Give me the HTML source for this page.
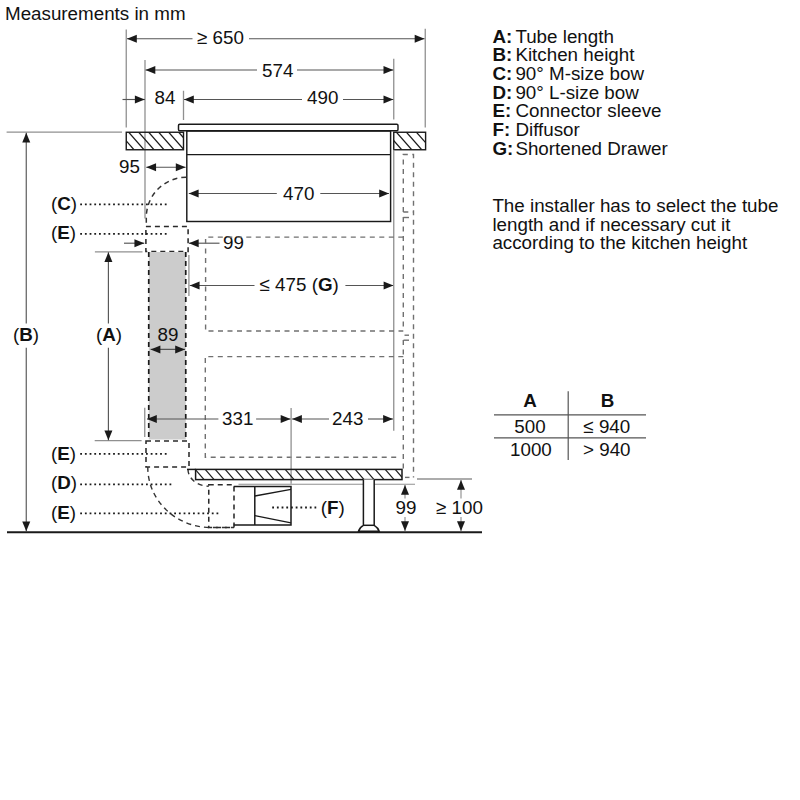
<!DOCTYPE html>
<html><head><meta charset="utf-8"><style>
html,body{margin:0;padding:0;background:#fff;width:800px;height:800px;overflow:hidden}
svg{display:block}
text{font-family:"Liberation Sans",sans-serif}
</style></head><body>
<svg width="800" height="800" viewBox="0 0 800 800">
<rect width="800" height="800" fill="#fff"/>
<text transform="translate(5,19.6) scale(1,1.02)" font-size="18.8" fill="#111">Measurements in mm</text>
<line x1="126.25" y1="29.50" x2="126.25" y2="127.50" stroke="#909090" stroke-width="1.3" stroke-linecap="butt"/>
<line x1="425.25" y1="28.75" x2="425.25" y2="127.50" stroke="#909090" stroke-width="1.3" stroke-linecap="butt"/>
<line x1="127.00" y1="38.75" x2="192.50" y2="38.75" stroke="#555" stroke-width="1.15" stroke-linecap="butt"/>
<line x1="249.00" y1="38.75" x2="424.50" y2="38.75" stroke="#555" stroke-width="1.15" stroke-linecap="butt"/>
<polygon points="127.00,38.75 136.80,34.75 136.80,42.75" fill="#1a1a1a"/>
<polygon points="424.50,38.75 414.70,42.75 414.70,34.75" fill="#1a1a1a"/>
<text transform="translate(197.00,44.25) scale(1,1.02)" font-size="18.8" text-anchor="start" font-weight="normal" fill="#111">≥ 650</text>
<line x1="145.00" y1="60.00" x2="145.00" y2="218.50" stroke="#909090" stroke-width="1.3" stroke-linecap="butt"/>
<line x1="393.75" y1="58.75" x2="393.75" y2="119.40" stroke="#909090" stroke-width="1.3" stroke-linecap="butt"/>
<line x1="145.50" y1="70.00" x2="257.00" y2="70.00" stroke="#555" stroke-width="1.15" stroke-linecap="butt"/>
<line x1="297.00" y1="70.00" x2="393.30" y2="70.00" stroke="#555" stroke-width="1.15" stroke-linecap="butt"/>
<polygon points="145.50,70.00 155.30,66.00 155.30,74.00" fill="#1a1a1a"/>
<polygon points="393.30,70.00 383.50,74.00 383.50,66.00" fill="#1a1a1a"/>
<text transform="translate(262.00,76.75) scale(1,1.02)" font-size="18.8" text-anchor="start" font-weight="normal" fill="#111">574</text>
<line x1="183.50" y1="90.75" x2="183.50" y2="120.00" stroke="#909090" stroke-width="1.3" stroke-linecap="butt"/>
<line x1="184.00" y1="99.50" x2="302.00" y2="99.50" stroke="#555" stroke-width="1.15" stroke-linecap="butt"/>
<line x1="343.00" y1="99.50" x2="393.30" y2="99.50" stroke="#555" stroke-width="1.15" stroke-linecap="butt"/>
<polygon points="184.00,99.50 193.80,95.50 193.80,103.50" fill="#1a1a1a"/>
<polygon points="393.30,99.50 383.50,103.50 383.50,95.50" fill="#1a1a1a"/>
<text transform="translate(307.00,104.25) scale(1,1.02)" font-size="18.8" text-anchor="start" font-weight="normal" fill="#111">490</text>
<line x1="122.50" y1="99.50" x2="145.00" y2="99.50" stroke="#555" stroke-width="1.15" stroke-linecap="butt"/>
<polygon points="144.70,99.50 134.90,103.50 134.90,95.50" fill="#1a1a1a"/>
<text transform="translate(154.50,104.25) scale(1,1.02)" font-size="18.8" text-anchor="start" font-weight="normal" fill="#111">84</text>
<line x1="6.60" y1="132.20" x2="122.00" y2="132.20" stroke="#909090" stroke-width="1.3" stroke-linecap="butt"/>
<line x1="26.25" y1="132.75" x2="26.25" y2="323.40" stroke="#555" stroke-width="1.15" stroke-linecap="butt"/>
<line x1="26.25" y1="347.80" x2="26.25" y2="531.25" stroke="#555" stroke-width="1.15" stroke-linecap="butt"/>
<polygon points="26.25,132.75 30.25,142.55 22.25,142.55" fill="#1a1a1a"/>
<polygon points="26.25,531.25 22.25,521.45 30.25,521.45" fill="#1a1a1a"/>
<text transform="translate(13.00,341.00) scale(1,1.02)" font-size="18.8" text-anchor="start" font-weight="normal" fill="#111">(<tspan font-weight='bold'>B</tspan>)</text>
<rect x="126.25" y="132.25" width="57.25" height="17.5" fill="none" stroke="#1a1a1a" stroke-width="1.4"/>
<clipPath id="c30"><rect x="126.25" y="132.25" width="57.25" height="17.5"/></clipPath><g clip-path="url(#c30)">
<line x1="108.75" y1="132.25" x2="123.97" y2="149.75" stroke="#1a1a1a" stroke-width="1.2" stroke-linecap="butt"/>
<line x1="118.75" y1="132.25" x2="133.97" y2="149.75" stroke="#1a1a1a" stroke-width="1.2" stroke-linecap="butt"/>
<line x1="128.75" y1="132.25" x2="143.97" y2="149.75" stroke="#1a1a1a" stroke-width="1.2" stroke-linecap="butt"/>
<line x1="138.75" y1="132.25" x2="153.97" y2="149.75" stroke="#1a1a1a" stroke-width="1.2" stroke-linecap="butt"/>
<line x1="148.75" y1="132.25" x2="163.97" y2="149.75" stroke="#1a1a1a" stroke-width="1.2" stroke-linecap="butt"/>
<line x1="158.75" y1="132.25" x2="173.97" y2="149.75" stroke="#1a1a1a" stroke-width="1.2" stroke-linecap="butt"/>
<line x1="168.75" y1="132.25" x2="183.97" y2="149.75" stroke="#1a1a1a" stroke-width="1.2" stroke-linecap="butt"/>
<line x1="178.75" y1="132.25" x2="193.97" y2="149.75" stroke="#1a1a1a" stroke-width="1.2" stroke-linecap="butt"/>
</g>
<rect x="393.75" y="132.25" width="31.85" height="17.5" fill="none" stroke="#1a1a1a" stroke-width="1.4"/>
<clipPath id="c41"><rect x="393.75" y="132.25" width="31.850000000000023" height="17.5"/></clipPath><g clip-path="url(#c41)">
<line x1="376.50" y1="132.25" x2="391.73" y2="149.75" stroke="#1a1a1a" stroke-width="1.2" stroke-linecap="butt"/>
<line x1="386.50" y1="132.25" x2="401.73" y2="149.75" stroke="#1a1a1a" stroke-width="1.2" stroke-linecap="butt"/>
<line x1="396.50" y1="132.25" x2="411.73" y2="149.75" stroke="#1a1a1a" stroke-width="1.2" stroke-linecap="butt"/>
<line x1="406.50" y1="132.25" x2="421.73" y2="149.75" stroke="#1a1a1a" stroke-width="1.2" stroke-linecap="butt"/>
<line x1="416.50" y1="132.25" x2="431.73" y2="149.75" stroke="#1a1a1a" stroke-width="1.2" stroke-linecap="butt"/>
<line x1="426.50" y1="132.25" x2="441.73" y2="149.75" stroke="#1a1a1a" stroke-width="1.2" stroke-linecap="butt"/>
</g>
<rect x="178.5" y="124.2" width="219.5" height="6.6" rx="1.2" fill="#fff" stroke="#1a1a1a" stroke-width="1.45"/>
<rect x="186.8" y="131" width="203.8" height="90.5" fill="none" stroke="#1a1a1a" stroke-width="1.45"/>
<line x1="186.80" y1="154.60" x2="390.60" y2="154.60" stroke="#1a1a1a" stroke-width="1.45" stroke-linecap="butt"/>
<line x1="146.25" y1="167.25" x2="185.60" y2="167.25" stroke="#555" stroke-width="1.15" stroke-linecap="butt"/>
<polygon points="146.25,167.25 156.05,163.25 156.05,171.25" fill="#1a1a1a"/>
<polygon points="185.60,167.25 175.80,171.25 175.80,163.25" fill="#1a1a1a"/>
<text transform="translate(119.00,173.40) scale(1,1.02)" font-size="18.8" text-anchor="start" font-weight="normal" fill="#111">95</text>
<line x1="188.80" y1="193.50" x2="276.80" y2="193.50" stroke="#555" stroke-width="1.15" stroke-linecap="butt"/>
<line x1="320.30" y1="193.50" x2="389.00" y2="193.50" stroke="#555" stroke-width="1.15" stroke-linecap="butt"/>
<polygon points="188.80,193.50 198.60,189.50 198.60,197.50" fill="#1a1a1a"/>
<polygon points="389.00,193.50 379.20,197.50 379.20,189.50" fill="#1a1a1a"/>
<text transform="translate(283.00,199.50) scale(1,1.02)" font-size="18.8" text-anchor="start" font-weight="normal" fill="#111">470</text>
<path d="M186.2,177.3 A40,40 0 0 0 146.3,217.3 L146.3,226.5" fill="none" stroke="#333" stroke-width="1.5" stroke-dasharray="5,4"/>
<line x1="80.20" y1="204.40" x2="166.90" y2="204.40" stroke="#1a1a1a" stroke-width="1.8" stroke-dasharray="1.8,2.9" stroke-linecap="butt"/>
<text transform="translate(51.00,209.50) scale(1,1.02)" font-size="18.8" text-anchor="start" font-weight="normal" fill="#111">(<tspan font-weight='bold'>C</tspan>)</text>
<rect x="145.9" y="226.5" width="42.2" height="25" fill="none" stroke="#2a2a2a" stroke-width="1.55" stroke-dasharray="5,4"/>
<line x1="80.20" y1="233.80" x2="166.90" y2="233.80" stroke="#1a1a1a" stroke-width="1.8" stroke-dasharray="1.8,2.9" stroke-linecap="butt"/>
<text transform="translate(51.00,239.20) scale(1,1.02)" font-size="18.8" text-anchor="start" font-weight="normal" fill="#111">(<tspan font-weight='bold'>E</tspan>)</text>
<line x1="124.00" y1="243.20" x2="144.25" y2="243.20" stroke="#555" stroke-width="1.15" stroke-linecap="butt"/>
<polygon points="144.25,243.20 134.45,247.20 134.45,239.20" fill="#1a1a1a"/>
<line x1="188.90" y1="243.20" x2="219.50" y2="243.20" stroke="#555" stroke-width="1.15" stroke-linecap="butt"/>
<polygon points="188.90,243.20 198.70,239.20 198.70,247.20" fill="#1a1a1a"/>
<text transform="translate(223.00,248.50) scale(1,1.02)" font-size="18.8" text-anchor="start" font-weight="normal" fill="#111">99</text>
<line x1="94.90" y1="251.85" x2="142.50" y2="251.85" stroke="#909090" stroke-width="1.3" stroke-linecap="butt"/>
<line x1="94.70" y1="440.60" x2="141.60" y2="440.60" stroke="#909090" stroke-width="1.3" stroke-linecap="butt"/>
<line x1="108.40" y1="252.20" x2="108.40" y2="323.40" stroke="#555" stroke-width="1.15" stroke-linecap="butt"/>
<line x1="108.40" y1="347.80" x2="108.40" y2="440.25" stroke="#555" stroke-width="1.15" stroke-linecap="butt"/>
<polygon points="108.40,252.20 112.40,262.00 104.40,262.00" fill="#1a1a1a"/>
<polygon points="108.40,440.25 104.40,430.45 112.40,430.45" fill="#1a1a1a"/>
<text transform="translate(95.90,341.00) scale(1,1.02)" font-size="18.8" text-anchor="start" font-weight="normal" fill="#111">(<tspan font-weight='bold'>A</tspan>)</text>
<rect x="148.75" y="252" width="37" height="187.5" fill="#cccccc"/>
<line x1="148.75" y1="252.00" x2="148.75" y2="440.00" stroke="#1a1a1a" stroke-width="1.7" stroke-dasharray="5,4" stroke-linecap="butt"/>
<line x1="185.75" y1="252.00" x2="185.75" y2="440.00" stroke="#1a1a1a" stroke-width="1.7" stroke-dasharray="5,4" stroke-linecap="butt"/>
<line x1="150.60" y1="349.40" x2="185.00" y2="349.40" stroke="#555" stroke-width="1.15" stroke-linecap="butt"/>
<polygon points="150.60,349.40 160.40,345.40 160.40,353.40" fill="#1a1a1a"/>
<polygon points="185.00,349.40 175.20,353.40 175.20,345.40" fill="#1a1a1a"/>
<text transform="translate(157.50,341.25) scale(1,1.02)" font-size="18.8" text-anchor="start" font-weight="normal" fill="#111">89</text>
<line x1="188.90" y1="255.00" x2="188.90" y2="296.00" stroke="#909090" stroke-width="1.3" stroke-linecap="butt"/>
<line x1="189.75" y1="285.50" x2="254.50" y2="285.50" stroke="#555" stroke-width="1.15" stroke-linecap="butt"/>
<line x1="345.40" y1="285.50" x2="393.40" y2="285.50" stroke="#555" stroke-width="1.15" stroke-linecap="butt"/>
<polygon points="189.75,285.50 199.55,281.50 199.55,289.50" fill="#1a1a1a"/>
<polygon points="393.40,285.50 383.60,289.50 383.60,281.50" fill="#1a1a1a"/>
<text transform="translate(259.60,291.40) scale(1,1.02)" font-size="18.8" text-anchor="start" font-weight="normal" fill="#111">≤ 475 (<tspan font-weight='bold'>G</tspan>)</text>
<line x1="393.75" y1="149.75" x2="393.75" y2="430.75" stroke="#909090" stroke-width="1.3" stroke-linecap="butt"/>
<path d="M403.3,237.1 H205.6 V331 H403.3" fill="none" stroke="#707070" stroke-width="1.4" stroke-dasharray="5,4.5"/>
<path d="M403.3,212 V154.5 H413.5 V477.4" fill="none" stroke="#707070" stroke-width="1.4" stroke-dasharray="5,4.5"/>
<path d="M403.3,217 V331" fill="none" stroke="#707070" stroke-width="1.4" stroke-dasharray="5,4.5"/>
<path d="M403.3,340 V469" fill="none" stroke="#707070" stroke-width="1.4" stroke-dasharray="5,4.5"/>
<path d="M403.3,356.6 H205.3 V457.2 H399" fill="none" stroke="#707070" stroke-width="1.4" stroke-dasharray="5,4.5"/>
<path d="M403.3,212 H413.5" fill="none" stroke="#707070" stroke-width="1.4" stroke-dasharray="5,4.5"/>
<line x1="403.30" y1="217.50" x2="409.00" y2="217.50" stroke="#707070" stroke-width="1.4" stroke-linecap="butt"/>
<line x1="404.50" y1="335.20" x2="409.00" y2="335.20" stroke="#707070" stroke-width="1.4" stroke-linecap="butt"/>
<line x1="403.50" y1="340.20" x2="409.00" y2="340.20" stroke="#707070" stroke-width="1.4" stroke-linecap="butt"/>
<line x1="405.00" y1="477.40" x2="409.50" y2="477.40" stroke="#707070" stroke-width="1.4" stroke-linecap="butt"/>
<line x1="144.75" y1="407.80" x2="144.75" y2="436.90" stroke="#909090" stroke-width="1.3" stroke-linecap="butt"/>
<line x1="291.10" y1="408.00" x2="291.10" y2="483.75" stroke="#909090" stroke-width="1.3" stroke-linecap="butt"/>
<line x1="147.00" y1="419.00" x2="218.40" y2="419.00" stroke="#555" stroke-width="1.15" stroke-linecap="butt"/>
<line x1="256.10" y1="419.00" x2="290.50" y2="419.00" stroke="#555" stroke-width="1.15" stroke-linecap="butt"/>
<polygon points="147.00,419.00 156.80,415.00 156.80,423.00" fill="#1a1a1a"/>
<polygon points="290.50,419.00 280.70,423.00 280.70,415.00" fill="#1a1a1a"/>
<line x1="292.10" y1="419.00" x2="329.00" y2="419.00" stroke="#555" stroke-width="1.15" stroke-linecap="butt"/>
<line x1="368.00" y1="419.00" x2="392.90" y2="419.00" stroke="#555" stroke-width="1.15" stroke-linecap="butt"/>
<polygon points="392.90,419.00 383.10,423.00 383.10,415.00" fill="#1a1a1a"/>
<polygon points="292.10,419.00 301.90,415.00 301.90,423.00" fill="#1a1a1a"/>
<text transform="translate(222.00,424.90) scale(1,1.02)" font-size="18.8" text-anchor="start" font-weight="normal" fill="#111">331</text>
<text transform="translate(332.00,424.90) scale(1,1.02)" font-size="18.8" text-anchor="start" font-weight="normal" fill="#111">243</text>
<rect x="146" y="440.9" width="43" height="26.1" fill="none" stroke="#2a2a2a" stroke-width="1.55" stroke-dasharray="5,4"/>
<line x1="80.20" y1="453.80" x2="166.60" y2="453.80" stroke="#1a1a1a" stroke-width="1.8" stroke-dasharray="1.8,2.9" stroke-linecap="butt"/>
<text transform="translate(51.00,459.50) scale(1,1.02)" font-size="18.8" text-anchor="start" font-weight="normal" fill="#111">(<tspan font-weight='bold'>E</tspan>)</text>
<path d="M147.8,467 A63,60 0 0 0 210.6,527.5 L234,527.5" fill="none" stroke="#333" stroke-width="1.4" stroke-dasharray="5,4"/>
<path d="M188,469.4 A21,17 0 0 0 208.75,486.25" fill="none" stroke="#333" stroke-width="1.4" stroke-dasharray="5,4"/>
<rect x="208.75" y="484.75" width="25.25" height="42.75" fill="none" stroke="#2a2a2a" stroke-width="1.55" stroke-dasharray="5,4"/>
<line x1="80.20" y1="484.40" x2="172.00" y2="484.40" stroke="#1a1a1a" stroke-width="1.8" stroke-dasharray="1.8,2.9" stroke-linecap="butt"/>
<text transform="translate(51.00,489.30) scale(1,1.02)" font-size="18.8" text-anchor="start" font-weight="normal" fill="#111">(<tspan font-weight='bold'>D</tspan>)</text>
<line x1="80.20" y1="513.40" x2="219.00" y2="513.40" stroke="#1a1a1a" stroke-width="1.8" stroke-dasharray="1.8,2.9" stroke-linecap="butt"/>
<text transform="translate(51.00,518.50) scale(1,1.02)" font-size="18.8" text-anchor="start" font-weight="normal" fill="#111">(<tspan font-weight='bold'>E</tspan>)</text>
<path d="M233.75,486.6 H291 V525 H233.75" fill="none" stroke="#1a1a1a" stroke-width="1.5"/>
<line x1="254.80" y1="486.60" x2="254.80" y2="525.00" stroke="#1a1a1a" stroke-width="1.5" stroke-linecap="butt"/>
<line x1="254.80" y1="496.00" x2="291.00" y2="489.40" stroke="#1a1a1a" stroke-width="1.3" stroke-linecap="butt"/>
<line x1="254.80" y1="515.60" x2="291.00" y2="522.80" stroke="#1a1a1a" stroke-width="1.3" stroke-linecap="butt"/>
<line x1="272.20" y1="507.50" x2="316.25" y2="507.50" stroke="#1a1a1a" stroke-width="1.8" stroke-dasharray="1.8,2.9" stroke-linecap="butt"/>
<text transform="translate(320.80,513.70) scale(1,1.02)" font-size="18.8" text-anchor="start" font-weight="normal" fill="#111">(<tspan font-weight='bold'>F</tspan>)</text>
<rect x="195.6" y="469.4" width="206.4" height="10.2" fill="none" stroke="#1a1a1a" stroke-width="1.5"/>
<clipPath id="c132"><rect x="195.6" y="469.4" width="206.4" height="10.200000000000045"/></clipPath><g clip-path="url(#c132)">
<line x1="185.20" y1="469.40" x2="194.07" y2="479.60" stroke="#1a1a1a" stroke-width="1.2" stroke-linecap="butt"/>
<line x1="195.20" y1="469.40" x2="204.07" y2="479.60" stroke="#1a1a1a" stroke-width="1.2" stroke-linecap="butt"/>
<line x1="205.20" y1="469.40" x2="214.07" y2="479.60" stroke="#1a1a1a" stroke-width="1.2" stroke-linecap="butt"/>
<line x1="215.20" y1="469.40" x2="224.07" y2="479.60" stroke="#1a1a1a" stroke-width="1.2" stroke-linecap="butt"/>
<line x1="225.20" y1="469.40" x2="234.07" y2="479.60" stroke="#1a1a1a" stroke-width="1.2" stroke-linecap="butt"/>
<line x1="235.20" y1="469.40" x2="244.07" y2="479.60" stroke="#1a1a1a" stroke-width="1.2" stroke-linecap="butt"/>
<line x1="245.20" y1="469.40" x2="254.07" y2="479.60" stroke="#1a1a1a" stroke-width="1.2" stroke-linecap="butt"/>
<line x1="255.20" y1="469.40" x2="264.07" y2="479.60" stroke="#1a1a1a" stroke-width="1.2" stroke-linecap="butt"/>
<line x1="265.20" y1="469.40" x2="274.07" y2="479.60" stroke="#1a1a1a" stroke-width="1.2" stroke-linecap="butt"/>
<line x1="275.20" y1="469.40" x2="284.07" y2="479.60" stroke="#1a1a1a" stroke-width="1.2" stroke-linecap="butt"/>
<line x1="285.20" y1="469.40" x2="294.07" y2="479.60" stroke="#1a1a1a" stroke-width="1.2" stroke-linecap="butt"/>
<line x1="295.20" y1="469.40" x2="304.07" y2="479.60" stroke="#1a1a1a" stroke-width="1.2" stroke-linecap="butt"/>
<line x1="305.20" y1="469.40" x2="314.07" y2="479.60" stroke="#1a1a1a" stroke-width="1.2" stroke-linecap="butt"/>
<line x1="315.20" y1="469.40" x2="324.07" y2="479.60" stroke="#1a1a1a" stroke-width="1.2" stroke-linecap="butt"/>
<line x1="325.20" y1="469.40" x2="334.07" y2="479.60" stroke="#1a1a1a" stroke-width="1.2" stroke-linecap="butt"/>
<line x1="335.20" y1="469.40" x2="344.07" y2="479.60" stroke="#1a1a1a" stroke-width="1.2" stroke-linecap="butt"/>
<line x1="345.20" y1="469.40" x2="354.07" y2="479.60" stroke="#1a1a1a" stroke-width="1.2" stroke-linecap="butt"/>
<line x1="355.20" y1="469.40" x2="364.07" y2="479.60" stroke="#1a1a1a" stroke-width="1.2" stroke-linecap="butt"/>
<line x1="365.20" y1="469.40" x2="374.07" y2="479.60" stroke="#1a1a1a" stroke-width="1.2" stroke-linecap="butt"/>
<line x1="375.20" y1="469.40" x2="384.07" y2="479.60" stroke="#1a1a1a" stroke-width="1.2" stroke-linecap="butt"/>
<line x1="385.20" y1="469.40" x2="394.07" y2="479.60" stroke="#1a1a1a" stroke-width="1.2" stroke-linecap="butt"/>
<line x1="395.20" y1="469.40" x2="404.07" y2="479.60" stroke="#1a1a1a" stroke-width="1.2" stroke-linecap="butt"/>
</g>
<line x1="187.00" y1="469.40" x2="195.60" y2="469.40" stroke="#1a1a1a" stroke-width="1.5" stroke-linecap="butt"/>
<line x1="238.50" y1="484.20" x2="415.00" y2="484.20" stroke="#909090" stroke-width="1.1" stroke-linecap="butt"/>
<path d="M363.4,479.6 L363.4,525.3 Q359.5,527.5 358.5,531.3 L379.2,531.3 Q378,527.5 374.2,525.3 L374.2,479.6" fill="#fff" stroke="#1a1a1a" stroke-width="1.5"/>
<line x1="363.40" y1="525.30" x2="374.20" y2="525.30" stroke="#1a1a1a" stroke-width="1.5" stroke-linecap="butt"/>
<line x1="7.00" y1="532.20" x2="482.00" y2="532.20" stroke="#1a1a1a" stroke-width="2.0" stroke-linecap="butt"/>
<line x1="405.00" y1="485.00" x2="405.00" y2="498.50" stroke="#909090" stroke-width="1.15" stroke-linecap="butt"/>
<line x1="405.00" y1="517.00" x2="405.00" y2="531.00" stroke="#909090" stroke-width="1.15" stroke-linecap="butt"/>
<polygon points="405.00,485.00 409.00,494.80 401.00,494.80" fill="#1a1a1a"/>
<polygon points="405.00,531.00 401.00,521.20 409.00,521.20" fill="#1a1a1a"/>
<text transform="translate(395.60,513.60) scale(1,1.02)" font-size="18.8" text-anchor="start" font-weight="normal" fill="#111">99</text>
<line x1="417.00" y1="479.00" x2="472.00" y2="479.00" stroke="#909090" stroke-width="1.3" stroke-linecap="butt"/>
<line x1="461.00" y1="480.00" x2="461.00" y2="498.50" stroke="#909090" stroke-width="1.15" stroke-linecap="butt"/>
<line x1="461.00" y1="517.00" x2="461.00" y2="531.00" stroke="#909090" stroke-width="1.15" stroke-linecap="butt"/>
<polygon points="461.00,480.00 465.00,489.80 457.00,489.80" fill="#1a1a1a"/>
<polygon points="461.00,531.00 457.00,521.20 465.00,521.20" fill="#1a1a1a"/>
<text transform="translate(436.00,513.60) scale(1,1.02)" font-size="18.8" text-anchor="start" font-weight="normal" fill="#111">≥ 100</text>
<text transform="translate(492.50,42.80) scale(1,1.02)" font-size="18.8" text-anchor="start" font-weight="bold" fill="#111">A:</text>
<text transform="translate(515.40,42.80) scale(1,1.02)" font-size="18.8" text-anchor="start" font-weight="normal" fill="#111">Tube length</text>
<text transform="translate(492.50,61.47) scale(1,1.02)" font-size="18.8" text-anchor="start" font-weight="bold" fill="#111">B:</text>
<text transform="translate(515.40,61.47) scale(1,1.02)" font-size="18.8" text-anchor="start" font-weight="normal" fill="#111">Kitchen height</text>
<text transform="translate(492.50,80.14) scale(1,1.02)" font-size="18.8" text-anchor="start" font-weight="bold" fill="#111">C:</text>
<text transform="translate(515.40,80.14) scale(1,1.02)" font-size="18.8" text-anchor="start" font-weight="normal" fill="#111">90° M-size bow</text>
<text transform="translate(492.50,98.81) scale(1,1.02)" font-size="18.8" text-anchor="start" font-weight="bold" fill="#111">D:</text>
<text transform="translate(515.40,98.81) scale(1,1.02)" font-size="18.8" text-anchor="start" font-weight="normal" fill="#111">90° L-size bow</text>
<text transform="translate(492.50,117.48) scale(1,1.02)" font-size="18.8" text-anchor="start" font-weight="bold" fill="#111">E:</text>
<text transform="translate(515.40,117.48) scale(1,1.02)" font-size="18.8" text-anchor="start" font-weight="normal" fill="#111">Connector sleeve</text>
<text transform="translate(492.50,136.15) scale(1,1.02)" font-size="18.8" text-anchor="start" font-weight="bold" fill="#111">F:</text>
<text transform="translate(515.40,136.15) scale(1,1.02)" font-size="18.8" text-anchor="start" font-weight="normal" fill="#111">Diffusor</text>
<text transform="translate(492.50,154.82) scale(1,1.02)" font-size="18.8" text-anchor="start" font-weight="bold" fill="#111">G:</text>
<text transform="translate(515.40,154.82) scale(1,1.02)" font-size="18.8" text-anchor="start" font-weight="normal" fill="#111">Shortened Drawer</text>
<text transform="translate(492.40,212.30) scale(1,1.02)" font-size="18.8" text-anchor="start" font-weight="normal" fill="#111">The installer has to select the tube</text>
<text transform="translate(492.40,230.75) scale(1,1.02)" font-size="18.8" text-anchor="start" font-weight="normal" fill="#111">length and if necessary cut it</text>
<text transform="translate(492.40,249.20) scale(1,1.02)" font-size="18.8" text-anchor="start" font-weight="normal" fill="#111">according to the kitchen height</text>
<line x1="568.20" y1="391.25" x2="568.20" y2="459.90" stroke="#555" stroke-width="1.2" stroke-linecap="butt"/>
<line x1="494.00" y1="414.90" x2="646.00" y2="414.90" stroke="#555" stroke-width="1.2" stroke-linecap="butt"/>
<line x1="494.00" y1="437.80" x2="646.00" y2="437.80" stroke="#555" stroke-width="1.2" stroke-linecap="butt"/>
<text transform="translate(530.00,407.00) scale(1,1.02)" font-size="18.8" text-anchor="middle" font-weight="bold" fill="#111">A</text>
<text transform="translate(607.50,407.00) scale(1,1.02)" font-size="18.8" text-anchor="middle" font-weight="bold" fill="#111">B</text>
<text transform="translate(530.00,432.80) scale(1,1.02)" font-size="18.8" text-anchor="middle" font-weight="normal" fill="#111">500</text>
<text transform="translate(606.80,432.80) scale(1,1.02)" font-size="18.8" text-anchor="middle" font-weight="normal" fill="#111">≤ 940</text>
<text transform="translate(530.90,456.00) scale(1,1.02)" font-size="18.8" text-anchor="middle" font-weight="normal" fill="#111">1000</text>
<text transform="translate(606.80,456.00) scale(1,1.02)" font-size="18.8" text-anchor="middle" font-weight="normal" fill="#111">&gt; 940</text>
</svg></body></html>
